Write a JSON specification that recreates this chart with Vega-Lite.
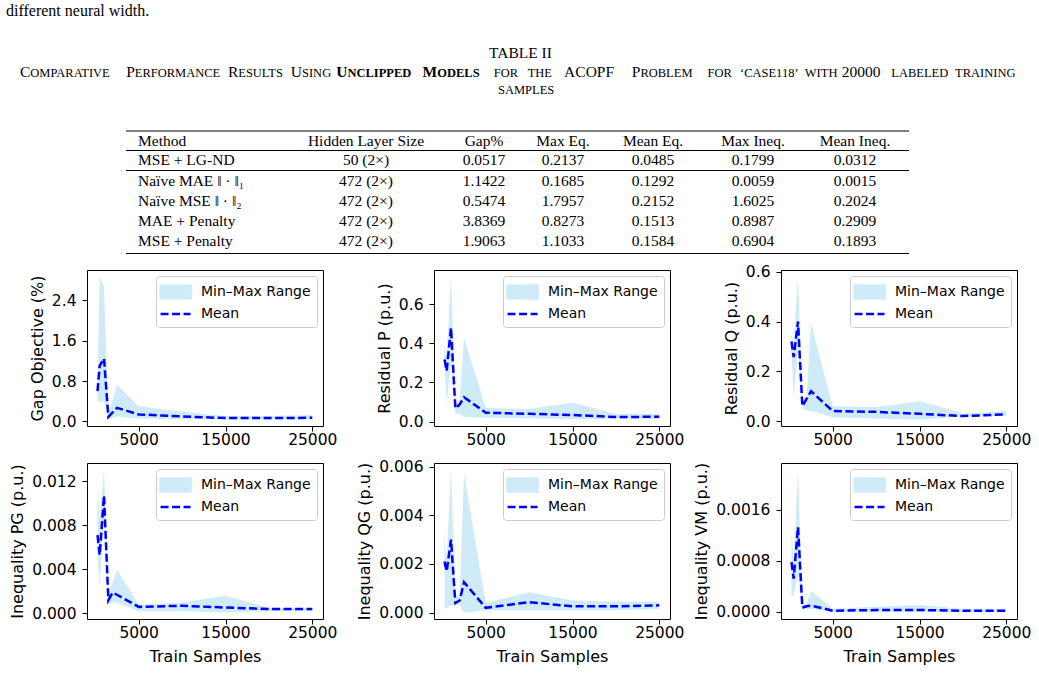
{
  "$schema": "https://vega.github.io/schema/vega-lite/v6.json",
  "background": "white",
  "padding": {"left": 6, "top": 0, "right": 0, "bottom": 0},
  "bounds": "flush",
  "spacing": 8,
  "datasets": {
    "page": [
      {"col": 0, "line": 0, "text": "different neural width.", "role": "body"},
      {"col": 10, "line": 1, "text": "TABLE II", "role": "label"},
      {"col": 12, "line": 2, "text": "C", "role": "capBig"},
      {"col": 13, "line": 2, "text": "OMPARATIVE", "role": "capSm"},
      {"col": 14, "line": 2, "text": "P", "role": "capBig"},
      {"col": 15, "line": 2, "text": "ERFORMANCE", "role": "capSm"},
      {"col": 16, "line": 2, "text": "R", "role": "capBig"},
      {"col": 17, "line": 2, "text": "ESULTS", "role": "capSm"},
      {"col": 18, "line": 2, "text": "U", "role": "capBig"},
      {"col": 19, "line": 2, "text": "SING", "role": "capSm"},
      {"col": 20, "line": 2, "text": "U", "role": "capBigBold"},
      {"col": 21, "line": 2, "text": "NCLIPPED", "role": "capSmBold"},
      {"col": 22, "line": 2, "text": "M", "role": "capBigBold"},
      {"col": 23, "line": 2, "text": "ODELS", "role": "capSmBold"},
      {"col": 24, "line": 2, "text": "FOR", "role": "capSm"},
      {"col": 25, "line": 2, "text": "THE", "role": "capSm"},
      {"col": 26, "line": 2, "text": "ACOPF", "role": "capBig"},
      {"col": 27, "line": 2, "text": "P", "role": "capBig"},
      {"col": 28, "line": 2, "text": "ROBLEM", "role": "capSm"},
      {"col": 29, "line": 2, "text": "FOR", "role": "capSm"},
      {"col": 30, "line": 2, "text": "‘CASE118’", "role": "capSm"},
      {"col": 31, "line": 2, "text": "WITH", "role": "capSm"},
      {"col": 32, "line": 2, "text": "20000", "role": "capBig"},
      {"col": 33, "line": 2, "text": "LABELED", "role": "capSm"},
      {"col": 34, "line": 2, "text": "TRAINING", "role": "capSm"},
      {"col": 11, "line": 3, "text": "SAMPLES", "role": "capSm"},
      {"col": 1, "col2": 9, "line": 4, "role": "rule"},
      {"col": 1, "col2": 9, "line": 6, "role": "rule"},
      {"col": 1, "col2": 9, "line": 8, "role": "rule"},
      {"col": 1, "col2": 9, "line": 13, "role": "rule"},
      {"col": 2, "line": 5, "text": "Method", "role": "method"},
      {"col": 3, "line": 5, "text": "Hidden Layer Size", "role": "cell"},
      {"col": 4, "line": 5, "text": "Gap%", "role": "cell"},
      {"col": 5, "line": 5, "text": "Max Eq.", "role": "cell"},
      {"col": 6, "line": 5, "text": "Mean Eq.", "role": "cell"},
      {"col": 7, "line": 5, "text": "Max Ineq.", "role": "cell"},
      {"col": 8, "line": 5, "text": "Mean Ineq.", "role": "cell"},
      {"col": 2, "line": 7, "text": "MSE + LG-ND", "role": "method"},
      {"col": 3, "line": 7, "text": "50 (2×)", "role": "cell"},
      {"col": 4, "line": 7, "text": "0.0517", "role": "cell"},
      {"col": 5, "line": 7, "text": "0.2137", "role": "cell"},
      {"col": 6, "line": 7, "text": "0.0485", "role": "cell"},
      {"col": 7, "line": 7, "text": "0.1799", "role": "cell"},
      {"col": 8, "line": 7, "text": "0.0312", "role": "cell"},
      {"col": 2, "line": 9, "text": "Naïve MAE ‖ · ‖₁", "role": "method"},
      {"col": 3, "line": 9, "text": "472 (2×)", "role": "cell"},
      {"col": 4, "line": 9, "text": "1.1422", "role": "cell"},
      {"col": 5, "line": 9, "text": "0.1685", "role": "cell"},
      {"col": 6, "line": 9, "text": "0.1292", "role": "cell"},
      {"col": 7, "line": 9, "text": "0.0059", "role": "cell"},
      {"col": 8, "line": 9, "text": "0.0015", "role": "cell"},
      {"col": 2, "line": 10, "text": "Naïve MSE ‖ · ‖₂", "role": "method"},
      {"col": 3, "line": 10, "text": "472 (2×)", "role": "cell"},
      {"col": 4, "line": 10, "text": "0.5474", "role": "cell"},
      {"col": 5, "line": 10, "text": "1.7957", "role": "cell"},
      {"col": 6, "line": 10, "text": "0.2152", "role": "cell"},
      {"col": 7, "line": 10, "text": "1.6025", "role": "cell"},
      {"col": 8, "line": 10, "text": "0.2024", "role": "cell"},
      {"col": 2, "line": 11, "text": "MAE + Penalty", "role": "method"},
      {"col": 3, "line": 11, "text": "472 (2×)", "role": "cell"},
      {"col": 4, "line": 11, "text": "3.8369", "role": "cell"},
      {"col": 5, "line": 11, "text": "0.8273", "role": "cell"},
      {"col": 6, "line": 11, "text": "0.1513", "role": "cell"},
      {"col": 7, "line": 11, "text": "0.8987", "role": "cell"},
      {"col": 8, "line": 11, "text": "0.2909", "role": "cell"},
      {"col": 2, "line": 12, "text": "MSE + Penalty", "role": "method"},
      {"col": 3, "line": 12, "text": "472 (2×)", "role": "cell"},
      {"col": 4, "line": 12, "text": "1.9063", "role": "cell"},
      {"col": 5, "line": 12, "text": "1.1033", "role": "cell"},
      {"col": 6, "line": 12, "text": "0.1584", "role": "cell"},
      {"col": 7, "line": 12, "text": "0.6904", "role": "cell"},
      {"col": 8, "line": 12, "text": "0.1893", "role": "cell"}
    ],
    "runs": [
      {"metric": "gap", "n": 250, "lo": 0.40, "mean": 0.60, "hi": 0.65},
      {"metric": "gap", "n": 500, "lo": 0.38, "mean": 1.10, "hi": 2.89},
      {"metric": "gap", "n": 1000, "lo": 0.40, "mean": 1.25, "hi": 2.67},
      {"metric": "gap", "n": 1500, "lo": 0.05, "mean": 0.09, "hi": 0.15},
      {"metric": "gap", "n": 2000, "lo": 0.08, "mean": 0.18, "hi": 0.44},
      {"metric": "gap", "n": 2500, "lo": 0.10, "mean": 0.27, "hi": 0.73},
      {"metric": "gap", "n": 5000, "lo": 0.06, "mean": 0.14, "hi": 0.30},
      {"metric": "gap", "n": 10000, "lo": 0.05, "mean": 0.10, "hi": 0.19},
      {"metric": "gap", "n": 15000, "lo": 0.04, "mean": 0.066, "hi": 0.106},
      {"metric": "gap", "n": 20000, "lo": 0.04, "mean": 0.066, "hi": 0.11},
      {"metric": "gap", "n": 25000, "lo": 0.04, "mean": 0.073, "hi": 0.13},

      {"metric": "resP", "n": 250, "lo": 0.30, "mean": 0.317, "hi": 0.39},
      {"metric": "resP", "n": 500, "lo": 0.09, "mean": 0.26, "hi": 0.33},
      {"metric": "resP", "n": 1000, "lo": 0.30, "mean": 0.48, "hi": 0.745},
      {"metric": "resP", "n": 1500, "lo": 0.04, "mean": 0.068, "hi": 0.10},
      {"metric": "resP", "n": 2000, "lo": 0.04, "mean": 0.088, "hi": 0.10},
      {"metric": "resP", "n": 2500, "lo": 0.024, "mean": 0.125, "hi": 0.43},
      {"metric": "resP", "n": 5000, "lo": 0.02, "mean": 0.046, "hi": 0.07},
      {"metric": "resP", "n": 10000, "lo": 0.018, "mean": 0.04, "hi": 0.065},
      {"metric": "resP", "n": 15000, "lo": 0.012, "mean": 0.034, "hi": 0.097},
      {"metric": "resP", "n": 20000, "lo": 0.015, "mean": 0.024, "hi": 0.04},
      {"metric": "resP", "n": 25000, "lo": 0.015, "mean": 0.025, "hi": 0.04},

      {"metric": "resQ", "n": 250, "lo": 0.28, "mean": 0.32, "hi": 0.35},
      {"metric": "resQ", "n": 500, "lo": 0.093, "mean": 0.257, "hi": 0.30},
      {"metric": "resQ", "n": 1000, "lo": 0.30, "mean": 0.40, "hi": 0.585},
      {"metric": "resQ", "n": 1500, "lo": 0.05, "mean": 0.06, "hi": 0.08},
      {"metric": "resQ", "n": 2000, "lo": 0.04, "mean": 0.09, "hi": 0.10},
      {"metric": "resQ", "n": 2500, "lo": 0.04, "mean": 0.12, "hi": 0.394},
      {"metric": "resQ", "n": 5000, "lo": 0.015, "mean": 0.04, "hi": 0.06},
      {"metric": "resQ", "n": 10000, "lo": 0.01, "mean": 0.037, "hi": 0.055},
      {"metric": "resQ", "n": 15000, "lo": 0.005, "mean": 0.029, "hi": 0.08},
      {"metric": "resQ", "n": 20000, "lo": 0.018, "mean": 0.02, "hi": 0.03},
      {"metric": "resQ", "n": 25000, "lo": 0.02, "mean": 0.027, "hi": 0.04},

      {"metric": "pg", "n": 250, "lo": 0.005, "mean": 0.0071, "hi": 0.012},
      {"metric": "pg", "n": 500, "lo": 0.0027, "mean": 0.0053, "hi": 0.0085},
      {"metric": "pg", "n": 1000, "lo": 0.0085, "mean": 0.0107, "hi": 0.013},
      {"metric": "pg", "n": 1500, "lo": 0.0008, "mean": 0.0012, "hi": 0.002},
      {"metric": "pg", "n": 2000, "lo": 0.001, "mean": 0.0019, "hi": 0.0028},
      {"metric": "pg", "n": 2500, "lo": 0.001, "mean": 0.0017, "hi": 0.004},
      {"metric": "pg", "n": 5000, "lo": 0.0002, "mean": 0.0006, "hi": 0.0008},
      {"metric": "pg", "n": 10000, "lo": 0.0002, "mean": 0.0007, "hi": 0.001},
      {"metric": "pg", "n": 15000, "lo": 0.0001, "mean": 0.00054, "hi": 0.0016},
      {"metric": "pg", "n": 20000, "lo": 0.0002, "mean": 0.0004, "hi": 0.0005},
      {"metric": "pg", "n": 25000, "lo": 0.0002, "mean": 0.0004, "hi": 0.0005},

      {"metric": "qg", "n": 250, "lo": 0.00015, "mean": 0.0021, "hi": 0.0033},
      {"metric": "qg", "n": 500, "lo": 0.0002, "mean": 0.0017, "hi": 0.0022},
      {"metric": "qg", "n": 1000, "lo": 0.0003, "mean": 0.0030, "hi": 0.0059},
      {"metric": "qg", "n": 1500, "lo": 0.0003, "mean": 0.0004, "hi": 0.0006},
      {"metric": "qg", "n": 2000, "lo": 0.0003, "mean": 0.0005, "hi": 0.0007},
      {"metric": "qg", "n": 2500, "lo": 0.0, "mean": 0.00125, "hi": 0.0057},
      {"metric": "qg", "n": 5000, "lo": 0.0001, "mean": 0.0002, "hi": 0.0004},
      {"metric": "qg", "n": 10000, "lo": 0.0001, "mean": 0.00043, "hi": 0.00084},
      {"metric": "qg", "n": 15000, "lo": 0.0001, "mean": 0.00026, "hi": 0.0005},
      {"metric": "qg", "n": 20000, "lo": 0.0001, "mean": 0.00026, "hi": 0.00045},
      {"metric": "qg", "n": 25000, "lo": 0.00015, "mean": 0.0003, "hi": 0.00045},

      {"metric": "vm", "n": 250, "lo": 0.00024, "mean": 0.00078, "hi": 0.00128},
      {"metric": "vm", "n": 500, "lo": 0.00025, "mean": 0.00052, "hi": 0.0008},
      {"metric": "vm", "n": 1000, "lo": 0.0006, "mean": 0.00133, "hi": 0.00222},
      {"metric": "vm", "n": 1500, "lo": 0.00003, "mean": 0.00007, "hi": 0.0001},
      {"metric": "vm", "n": 2000, "lo": 0.00004, "mean": 0.00009, "hi": 0.00012},
      {"metric": "vm", "n": 2500, "lo": 0.00005, "mean": 0.0001, "hi": 0.00033},
      {"metric": "vm", "n": 5000, "lo": 0.0, "mean": 0.00002, "hi": 0.00005},
      {"metric": "vm", "n": 10000, "lo": 0.0, "mean": 0.00003, "hi": 0.00008},
      {"metric": "vm", "n": 15000, "lo": 0.0, "mean": 0.00003, "hi": 0.00011},
      {"metric": "vm", "n": 20000, "lo": 0.0, "mean": 0.00002, "hi": 0.00005},
      {"metric": "vm", "n": 25000, "lo": 0.0, "mean": 0.00002, "hi": 0.00005}
    ]
  },
  "vconcat": [
    {
      "width": 952,
      "height": 262,
      "view": {"stroke": null},
      "data": {"name": "page"},
      "encoding": {
        "x": {"field": "col", "type": "quantitative", "axis": null,
              "scale": {"zero": false, "nice": false,
                        "domain": [0,1,2,3,4,5,6,7,8,9,10,11,12,13,14,15,16,17,18,19,20,21,22,23,24,25,26,27,28,29,30,31,32,33,34],
                        "range": [-81,39,51,279,397,476,566,666,768,822,433.5,411,-67,-56.66,39.2,47.82,140.9,151.24,203.8,214.99,249.2,260.39,335.6,350.23,406.7,440.7,477.1,544.8,553.42,620.5,653,717.8,754.8,804.3,868.1]}},
        "y": {"field": "line", "type": "quantitative", "axis": null,
              "scale": {"zero": false, "nice": false,
                        "domain": [0,1,2,3,4,5,6,7,8,9,10,11,12,13],
                        "range": [10.5,53,77,93.5,131,141,150.5,159.5,170.5,181,201,221,241,253.5]}}
      },
      "layer": [
        {"transform": [{"filter": "datum.role === 'body'"}],
         "mark": {"type": "text", "align": "left", "baseline": "middle", "font": "Liberation Serif", "fontSize": 16, "color": "black"},
         "encoding": {"text": {"field": "text"}}},
        {"transform": [{"filter": "datum.role === 'label'"}],
         "mark": {"type": "text", "align": "center", "baseline": "middle", "font": "Liberation Serif", "fontSize": 15.5, "color": "black"},
         "encoding": {"text": {"field": "text"}}},
        {"transform": [{"filter": "datum.role === 'capBig'"}],
         "mark": {"type": "text", "align": "left", "baseline": "alphabetic", "font": "Liberation Serif", "fontSize": 15.5, "color": "black"},
         "encoding": {"text": {"field": "text"}}},
        {"transform": [{"filter": "datum.role === 'capSm'"}],
         "mark": {"type": "text", "align": "left", "baseline": "alphabetic", "font": "Liberation Serif", "fontSize": 12.5, "color": "black"},
         "encoding": {"text": {"field": "text"}}},
        {"transform": [{"filter": "datum.role === 'capBigBold'"}],
         "mark": {"type": "text", "align": "left", "baseline": "alphabetic", "font": "Liberation Serif", "fontSize": 15.5, "fontWeight": "bold", "color": "black"},
         "encoding": {"text": {"field": "text"}}},
        {"transform": [{"filter": "datum.role === 'capSmBold'"}],
         "mark": {"type": "text", "align": "left", "baseline": "alphabetic", "font": "Liberation Serif", "fontSize": 12.5, "fontWeight": "bold", "color": "black"},
         "encoding": {"text": {"field": "text"}}},
        {"transform": [{"filter": "datum.role === 'method'"}],
         "mark": {"type": "text", "align": "left", "baseline": "middle", "font": "Liberation Serif", "fontSize": 15.5, "color": "black"},
         "encoding": {"text": {"field": "text"}}},
        {"transform": [{"filter": "datum.role === 'cell'"}],
         "mark": {"type": "text", "align": "center", "baseline": "middle", "font": "Liberation Serif", "fontSize": 15.5, "color": "black"},
         "encoding": {"text": {"field": "text"}}},
        {"transform": [{"filter": "datum.role === 'rule'"}],
         "mark": {"type": "rule", "color": "black", "strokeWidth": 1.2},
         "encoding": {"x2": {"field": "col2"}}}
      ]
    },
    {
      "columns": 3,
      "bounds": "flush",
      "spacing": {"row": 37, "column": 111},
      "resolve": {"scale": {"color": "independent"}, "legend": {"color": "independent"}},
      "concat": [
        {
          "width": 236, "height": 156,
          "data": {"name": "runs"},
          "transform": [{"filter": "datum.metric === 'gap'"}],
          "encoding": {"x": {"field": "n", "type": "quantitative", "scale": {"domain": [-960, 26235], "nice": false, "zero": false}, "axis": {"values": [5000, 15000, 25000], "format": "d", "title": null}}},
          "layer": [
            {"mark": {"type": "area"},
             "encoding": {
               "y": {"field": "lo", "type": "quantitative", "scale": {"domain": [-0.09, 3.0], "nice": false, "zero": false}, "axis": {"values": [0, 0.8, 1.6, 2.4], "format": ".1f", "title": "Gap Objective (%)"}},
               "y2": {"field": "hi"},
               "color": {"datum": "Min–Max Range", "type": "nominal", "scale": {"domain": ["Min–Max Range", "Mean"], "range": ["#cfebf7", "#0000ff"]},
                         "legend": {"title": null, "encode": {"symbols": {"update": {"shape": {"signal": "datum.value === 'Mean' ? 'M-1.347,0H2.182' : 'M-1.347,-0.765H2.182V0.765H-1.347Z'"}, "fill": {"signal": "datum.value === 'Mean' ? 'transparent' : '#cfebf7'"}, "stroke": {"signal": "datum.value === 'Mean' ? '#0000ff' : 'transparent'"}, "strokeDash": {"signal": "datum.value === 'Mean' ? [8, 3.5] : [1, 0]"}, "strokeWidth": {"value": 2.5}, "opacity": {"value": 1}, "fillOpacity": {"value": 1}, "strokeOpacity": {"value": 1}}}}}}
             }},
            {"mark": {"type": "line", "strokeDash": [8, 3.5], "strokeWidth": 2.5},
             "encoding": {
               "y": {"field": "mean", "type": "quantitative"},
               "color": {"datum": "Mean", "type": "nominal",
                         "legend": {"title": null, "encode": {"symbols": {"update": {"shape": {"signal": "datum.value === 'Mean' ? 'M-1.347,0H2.182' : 'M-1.347,-0.765H2.182V0.765H-1.347Z'"}, "fill": {"signal": "datum.value === 'Mean' ? 'transparent' : '#cfebf7'"}, "stroke": {"signal": "datum.value === 'Mean' ? '#0000ff' : 'transparent'"}, "strokeDash": {"signal": "datum.value === 'Mean' ? [8, 3.5] : [1, 0]"}, "strokeWidth": {"value": 2.5}, "opacity": {"value": 1}, "fillOpacity": {"value": 1}, "strokeOpacity": {"value": 1}}}}}}
             }}
          ]
        },
        {
          "width": 236, "height": 156,
          "data": {"name": "runs"},
          "transform": [{"filter": "datum.metric === 'resP'"}],
          "encoding": {"x": {"field": "n", "type": "quantitative", "scale": {"domain": [-960, 26235], "nice": false, "zero": false}, "axis": {"values": [5000, 15000, 25000], "format": "d", "title": null}}},
          "layer": [
            {"mark": {"type": "area"},
             "encoding": {
               "y": {"field": "lo", "type": "quantitative", "scale": {"domain": [-0.022, 0.774], "nice": false, "zero": false}, "axis": {"values": [0, 0.2, 0.4, 0.6], "format": ".1f", "title": "Residual P (p.u.)"}},
               "y2": {"field": "hi"},
               "color": {"datum": "Min–Max Range", "type": "nominal", "scale": {"domain": ["Min–Max Range", "Mean"], "range": ["#cfebf7", "#0000ff"]},
                         "legend": {"title": null, "encode": {"symbols": {"update": {"shape": {"signal": "datum.value === 'Mean' ? 'M-1.347,0H2.182' : 'M-1.347,-0.765H2.182V0.765H-1.347Z'"}, "fill": {"signal": "datum.value === 'Mean' ? 'transparent' : '#cfebf7'"}, "stroke": {"signal": "datum.value === 'Mean' ? '#0000ff' : 'transparent'"}, "strokeDash": {"signal": "datum.value === 'Mean' ? [8, 3.5] : [1, 0]"}, "strokeWidth": {"value": 2.5}, "opacity": {"value": 1}, "fillOpacity": {"value": 1}, "strokeOpacity": {"value": 1}}}}}}
             }},
            {"mark": {"type": "line", "strokeDash": [8, 3.5], "strokeWidth": 2.5},
             "encoding": {
               "y": {"field": "mean", "type": "quantitative"},
               "color": {"datum": "Mean", "type": "nominal",
                         "legend": {"title": null, "encode": {"symbols": {"update": {"shape": {"signal": "datum.value === 'Mean' ? 'M-1.347,0H2.182' : 'M-1.347,-0.765H2.182V0.765H-1.347Z'"}, "fill": {"signal": "datum.value === 'Mean' ? 'transparent' : '#cfebf7'"}, "stroke": {"signal": "datum.value === 'Mean' ? '#0000ff' : 'transparent'"}, "strokeDash": {"signal": "datum.value === 'Mean' ? [8, 3.5] : [1, 0]"}, "strokeWidth": {"value": 2.5}, "opacity": {"value": 1}, "fillOpacity": {"value": 1}, "strokeOpacity": {"value": 1}}}}}}
             }}
          ]
        },
        {
          "width": 236, "height": 156,
          "data": {"name": "runs"},
          "transform": [{"filter": "datum.metric === 'resQ'"}],
          "encoding": {"x": {"field": "n", "type": "quantitative", "scale": {"domain": [-960, 26235], "nice": false, "zero": false}, "axis": {"values": [5000, 15000, 25000], "format": "d", "title": null}}},
          "layer": [
            {"mark": {"type": "area"},
             "encoding": {
               "y": {"field": "lo", "type": "quantitative", "scale": {"domain": [-0.02, 0.608], "nice": false, "zero": false}, "axis": {"values": [0, 0.2, 0.4, 0.6], "format": ".1f", "title": "Residual Q (p.u.)"}},
               "y2": {"field": "hi"},
               "color": {"datum": "Min–Max Range", "type": "nominal", "scale": {"domain": ["Min–Max Range", "Mean"], "range": ["#cfebf7", "#0000ff"]},
                         "legend": {"title": null, "encode": {"symbols": {"update": {"shape": {"signal": "datum.value === 'Mean' ? 'M-1.347,0H2.182' : 'M-1.347,-0.765H2.182V0.765H-1.347Z'"}, "fill": {"signal": "datum.value === 'Mean' ? 'transparent' : '#cfebf7'"}, "stroke": {"signal": "datum.value === 'Mean' ? '#0000ff' : 'transparent'"}, "strokeDash": {"signal": "datum.value === 'Mean' ? [8, 3.5] : [1, 0]"}, "strokeWidth": {"value": 2.5}, "opacity": {"value": 1}, "fillOpacity": {"value": 1}, "strokeOpacity": {"value": 1}}}}}}
             }},
            {"mark": {"type": "line", "strokeDash": [8, 3.5], "strokeWidth": 2.5},
             "encoding": {
               "y": {"field": "mean", "type": "quantitative"},
               "color": {"datum": "Mean", "type": "nominal",
                         "legend": {"title": null, "encode": {"symbols": {"update": {"shape": {"signal": "datum.value === 'Mean' ? 'M-1.347,0H2.182' : 'M-1.347,-0.765H2.182V0.765H-1.347Z'"}, "fill": {"signal": "datum.value === 'Mean' ? 'transparent' : '#cfebf7'"}, "stroke": {"signal": "datum.value === 'Mean' ? '#0000ff' : 'transparent'"}, "strokeDash": {"signal": "datum.value === 'Mean' ? [8, 3.5] : [1, 0]"}, "strokeWidth": {"value": 2.5}, "opacity": {"value": 1}, "fillOpacity": {"value": 1}, "strokeOpacity": {"value": 1}}}}}}
             }}
          ]
        },
        {
          "width": 236, "height": 156,
          "data": {"name": "runs"},
          "transform": [{"filter": "datum.metric === 'pg'"}],
          "encoding": {"x": {"field": "n", "type": "quantitative", "scale": {"domain": [-960, 26235], "nice": false, "zero": false}, "axis": {"values": [5000, 15000, 25000], "format": "d", "title": "Train Samples"}}},
          "layer": [
            {"mark": {"type": "area"},
             "encoding": {
               "y": {"field": "lo", "type": "quantitative", "scale": {"domain": [-0.0005, 0.01365], "nice": false, "zero": false}, "axis": {"values": [0, 0.004, 0.008, 0.012], "format": ".3f", "title": "Inequality PG (p.u.)"}},
               "y2": {"field": "hi"},
               "color": {"datum": "Min–Max Range", "type": "nominal", "scale": {"domain": ["Min–Max Range", "Mean"], "range": ["#cfebf7", "#0000ff"]},
                         "legend": {"title": null, "encode": {"symbols": {"update": {"shape": {"signal": "datum.value === 'Mean' ? 'M-1.347,0H2.182' : 'M-1.347,-0.765H2.182V0.765H-1.347Z'"}, "fill": {"signal": "datum.value === 'Mean' ? 'transparent' : '#cfebf7'"}, "stroke": {"signal": "datum.value === 'Mean' ? '#0000ff' : 'transparent'"}, "strokeDash": {"signal": "datum.value === 'Mean' ? [8, 3.5] : [1, 0]"}, "strokeWidth": {"value": 2.5}, "opacity": {"value": 1}, "fillOpacity": {"value": 1}, "strokeOpacity": {"value": 1}}}}}}
             }},
            {"mark": {"type": "line", "strokeDash": [8, 3.5], "strokeWidth": 2.5},
             "encoding": {
               "y": {"field": "mean", "type": "quantitative"},
               "color": {"datum": "Mean", "type": "nominal",
                         "legend": {"title": null, "encode": {"symbols": {"update": {"shape": {"signal": "datum.value === 'Mean' ? 'M-1.347,0H2.182' : 'M-1.347,-0.765H2.182V0.765H-1.347Z'"}, "fill": {"signal": "datum.value === 'Mean' ? 'transparent' : '#cfebf7'"}, "stroke": {"signal": "datum.value === 'Mean' ? '#0000ff' : 'transparent'"}, "strokeDash": {"signal": "datum.value === 'Mean' ? [8, 3.5] : [1, 0]"}, "strokeWidth": {"value": 2.5}, "opacity": {"value": 1}, "fillOpacity": {"value": 1}, "strokeOpacity": {"value": 1}}}}}}
             }}
          ]
        },
        {
          "width": 236, "height": 156,
          "data": {"name": "runs"},
          "transform": [{"filter": "datum.metric === 'qg'"}],
          "encoding": {"x": {"field": "n", "type": "quantitative", "scale": {"domain": [-960, 26235], "nice": false, "zero": false}, "axis": {"values": [5000, 15000, 25000], "format": "d", "title": "Train Samples"}}},
          "layer": [
            {"mark": {"type": "area"},
             "encoding": {
               "y": {"field": "lo", "type": "quantitative", "scale": {"domain": [-0.00026, 0.00615], "nice": false, "zero": false}, "axis": {"values": [0, 0.002, 0.004, 0.006], "format": ".3f", "title": "Inequality QG (p.u.)"}},
               "y2": {"field": "hi"},
               "color": {"datum": "Min–Max Range", "type": "nominal", "scale": {"domain": ["Min–Max Range", "Mean"], "range": ["#cfebf7", "#0000ff"]},
                         "legend": {"title": null, "encode": {"symbols": {"update": {"shape": {"signal": "datum.value === 'Mean' ? 'M-1.347,0H2.182' : 'M-1.347,-0.765H2.182V0.765H-1.347Z'"}, "fill": {"signal": "datum.value === 'Mean' ? 'transparent' : '#cfebf7'"}, "stroke": {"signal": "datum.value === 'Mean' ? '#0000ff' : 'transparent'"}, "strokeDash": {"signal": "datum.value === 'Mean' ? [8, 3.5] : [1, 0]"}, "strokeWidth": {"value": 2.5}, "opacity": {"value": 1}, "fillOpacity": {"value": 1}, "strokeOpacity": {"value": 1}}}}}}
             }},
            {"mark": {"type": "line", "strokeDash": [8, 3.5], "strokeWidth": 2.5},
             "encoding": {
               "y": {"field": "mean", "type": "quantitative"},
               "color": {"datum": "Mean", "type": "nominal",
                         "legend": {"title": null, "encode": {"symbols": {"update": {"shape": {"signal": "datum.value === 'Mean' ? 'M-1.347,0H2.182' : 'M-1.347,-0.765H2.182V0.765H-1.347Z'"}, "fill": {"signal": "datum.value === 'Mean' ? 'transparent' : '#cfebf7'"}, "stroke": {"signal": "datum.value === 'Mean' ? '#0000ff' : 'transparent'"}, "strokeDash": {"signal": "datum.value === 'Mean' ? [8, 3.5] : [1, 0]"}, "strokeWidth": {"value": 2.5}, "opacity": {"value": 1}, "fillOpacity": {"value": 1}, "strokeOpacity": {"value": 1}}}}}}
             }}
          ]
        },
        {
          "width": 236, "height": 156,
          "data": {"name": "runs"},
          "transform": [{"filter": "datum.metric === 'vm'"}],
          "encoding": {"x": {"field": "n", "type": "quantitative", "scale": {"domain": [-960, 26235], "nice": false, "zero": false}, "axis": {"values": [5000, 15000, 25000], "format": "d", "title": "Train Samples"}}},
          "layer": [
            {"mark": {"type": "area"},
             "encoding": {
               "y": {"field": "lo", "type": "quantitative", "scale": {"domain": [-0.00011, 0.00233], "nice": false, "zero": false}, "axis": {"values": [0, 0.0008, 0.0016], "format": ".4f", "title": "Inequality VM (p.u.)"}},
               "y2": {"field": "hi"},
               "color": {"datum": "Min–Max Range", "type": "nominal", "scale": {"domain": ["Min–Max Range", "Mean"], "range": ["#cfebf7", "#0000ff"]},
                         "legend": {"title": null, "encode": {"symbols": {"update": {"shape": {"signal": "datum.value === 'Mean' ? 'M-1.347,0H2.182' : 'M-1.347,-0.765H2.182V0.765H-1.347Z'"}, "fill": {"signal": "datum.value === 'Mean' ? 'transparent' : '#cfebf7'"}, "stroke": {"signal": "datum.value === 'Mean' ? '#0000ff' : 'transparent'"}, "strokeDash": {"signal": "datum.value === 'Mean' ? [8, 3.5] : [1, 0]"}, "strokeWidth": {"value": 2.5}, "opacity": {"value": 1}, "fillOpacity": {"value": 1}, "strokeOpacity": {"value": 1}}}}}}
             }},
            {"mark": {"type": "line", "strokeDash": [8, 3.5], "strokeWidth": 2.5},
             "encoding": {
               "y": {"field": "mean", "type": "quantitative"},
               "color": {"datum": "Mean", "type": "nominal",
                         "legend": {"title": null, "encode": {"symbols": {"update": {"shape": {"signal": "datum.value === 'Mean' ? 'M-1.347,0H2.182' : 'M-1.347,-0.765H2.182V0.765H-1.347Z'"}, "fill": {"signal": "datum.value === 'Mean' ? 'transparent' : '#cfebf7'"}, "stroke": {"signal": "datum.value === 'Mean' ? '#0000ff' : 'transparent'"}, "strokeDash": {"signal": "datum.value === 'Mean' ? [8, 3.5] : [1, 0]"}, "strokeWidth": {"value": 2.5}, "opacity": {"value": 1}, "fillOpacity": {"value": 1}, "strokeOpacity": {"value": 1}}}}}}
             }}
          ]
        }
      ]
    }
  ],
  "resolve": {"scale": {"color": "independent"}, "legend": {"color": "independent"}},
  "config": {
    "font": "DejaVu Sans",
    "view": {"stroke": "black", "strokeWidth": 1},
    "axis": {"grid": false, "domain": false, "tickColor": "black", "tickSize": 5, "tickWidth": 1,
             "labelColor": "black", "labelFont": "DejaVu Sans", "labelFontSize": 15.5, "labelOverlap": false,
             "titleFont": "DejaVu Sans", "titleFontSize": 16, "titleFontWeight": "normal", "titleColor": "black"},
    "axisX": {"labelPadding": 1, "titlePadding": 8, "labelFlush": false},
    "axisY": {"labelPadding": 6, "titlePadding": 6},
    "legend": {"orient": "top-right", "offset": 6, "padding": 6, "fillColor": "white", "strokeColor": "#cccccc",
               "cornerRadius": 3, "labelFont": "DejaVu Sans", "labelFontSize": 14, "labelColor": "black",
               "labelOffset": 19, "symbolSize": 289, "rowPadding": 0}
  }
}
